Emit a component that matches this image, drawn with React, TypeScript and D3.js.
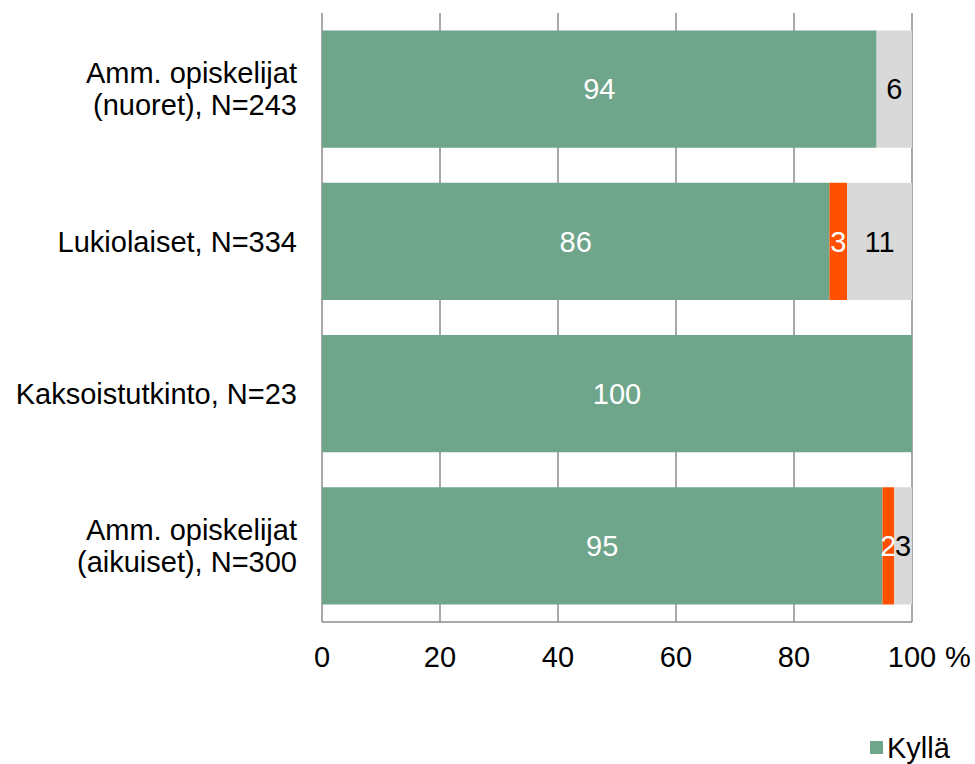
import React from 'react';
import * as d3 from 'd3';

// Chart data
const categories = [
  ['Amm. opiskelijat', '(nuoret), N=243'],
  ['Lukiolaiset, N=334'],
  ['Kaksoistutkinto, N=23'],
  ['Amm. opiskelijat', '(aikuiset), N=300'],
];
const kylla = [94, 86, 100, 95];
const ei = [0, 3, 0, 2];
const eos = [6, 11, 0, 3];
const xTicks = [0, 20, 40, 60, 80, 100];

const seriesNames = ['Kyllä', 'Ei', 'En osaa sanoa'];
const seriesColors = ['#6FA58A', '#FF5000', '#D9D9D9'];
const labelColors = ['#ffffff', '#ffffff', '#000000'];

const W = 975;
const H = 764;
const margin = { top: 13, right: 63, bottom: 142, left: 322 };
const font = '"Liberation Sans", Arial, sans-serif';
const fs = 29;

export default function App() {
  const innerW = W - margin.left - margin.right;
  const innerH = H - margin.top - margin.bottom;

  const x = d3.scaleLinear().domain([0, 100]).range([0, innerW]);
  const y = d3
    .scaleBand<number>()
    .domain(categories.map((_, i) => i))
    .range([0, innerH])
    .paddingInner(0.23)
    .paddingOuter(0.115);

  const rows = categories.map((_, i) => [kylla[i], ei[i], eos[i]]);

  return (
    <svg
      width={W}
      height={H}
      style={{ position: 'absolute', left: 0, top: 0, fontFamily: font }}
    >
      <rect width={W} height={H} fill="#fff" />
      <g transform={`translate(${margin.left},${margin.top})`}>
        {xTicks.map(t => (
          <line key={t} x1={x(t)} x2={x(t)} y1={0} y2={innerH} stroke="#8c8c8c" strokeWidth={1.5} />
        ))}
        {rows.map((vals, i) => {
          let acc = 0;
          return (
            <g key={i} transform={`translate(0,${y(i)})`}>
              {vals.map((v, s) => {
                const x0 = acc;
                acc += v;
                if (v === 0) return null;
                return (
                  <g key={s}>
                    <rect x={x(x0)} y={0} width={x(x0 + v) - x(x0)} height={y.bandwidth()} fill={seriesColors[s]} />
                    <text
                      x={(x(x0) + x(x0 + v)) / 2}
                      y={y.bandwidth() / 2}
                      dy="0.35em"
                      textAnchor="middle"
                      fontSize={fs}
                      fill={labelColors[s]}
                    >
                      {v}
                    </text>
                  </g>
                );
              })}
            </g>
          );
        })}
        <line x1={0} x2={innerW} y1={innerH} y2={innerH} stroke="#8c8c8c" strokeWidth={1.5} />
        {categories.map((lines, i) => {
          const cy = (y(i) ?? 0) + y.bandwidth() / 2;
          const lh = 32;
          const start = cy - ((lines.length - 1) * lh) / 2;
          return (
            <text key={i} textAnchor="end" fontSize={fs} fill="#000">
              {lines.map((l, j) => (
                <tspan key={j} x={-25} y={start + j * lh} dy="0.35em">
                  {l}
                </tspan>
              ))}
            </text>
          );
        })}
        {xTicks.map(t => (
          <text key={t} x={x(t)} y={innerH + 35} dy="0.35em" textAnchor="middle" fontSize={fs} fill="#000">
            {t}
          </text>
        ))}
        <text x={innerW + 33} y={innerH + 35} dy="0.35em" fontSize={fs} fill="#000">
          %
        </text>
      </g>
      <g transform="translate(870,741)">
        <rect x={0} y={0} width={13} height={13} fill={seriesColors[0]} />
        <text x={17} y={6.5} dy="0.35em" fontSize={fs} fill="#000">
          {seriesNames[0]}
        </text>
      </g>
    </svg>
  );
}
